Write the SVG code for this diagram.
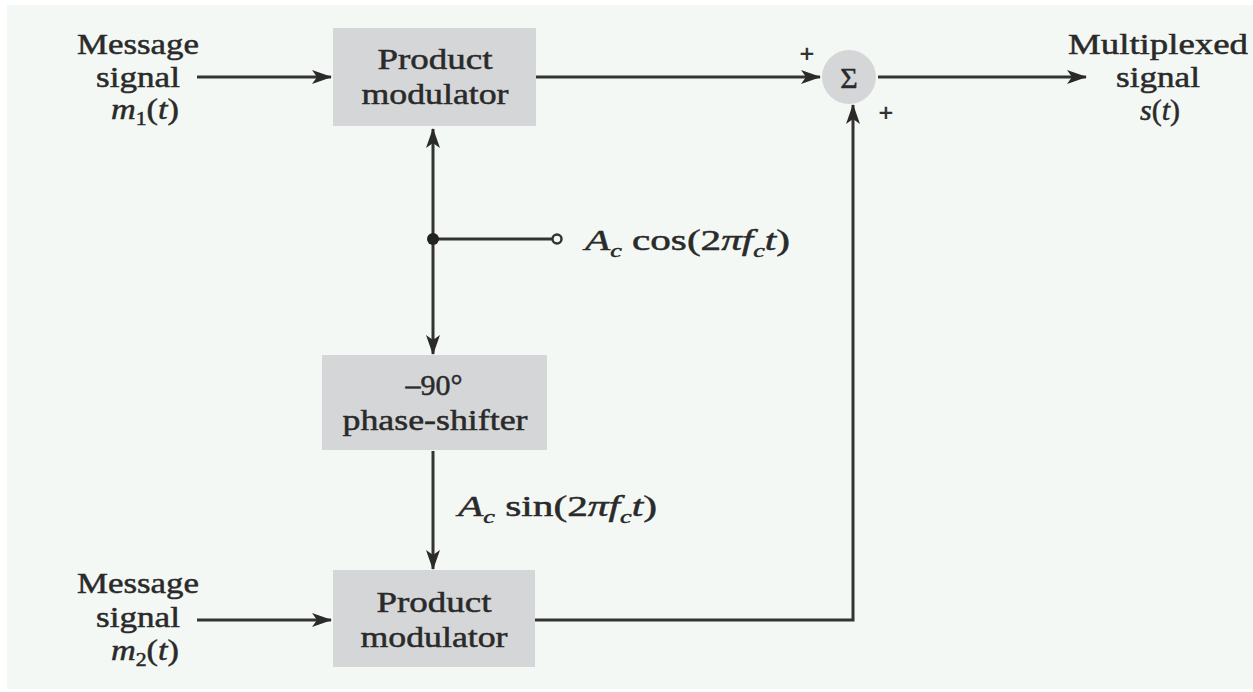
<svg xmlns="http://www.w3.org/2000/svg" width="1253" height="692" viewBox="0 0 1253 692">
<defs>
<style>
.t{font-family:"Liberation Serif","Times New Roman",serif;font-size:30px;fill:#2a2a2a;stroke:#2a2a2a;stroke-width:0.5px;text-anchor:middle}
.m{font-family:"Liberation Serif","Times New Roman",serif;font-size:30px;fill:#2a2a2a;stroke:#2a2a2a;stroke-width:0.5px}
.i{font-style:italic}
.box{fill:#d5d6d7}
.ln{stroke:#333;stroke-width:3;fill:none}
.pl{font-family:"DejaVu Sans",sans-serif;font-size:20px;fill:#333;text-anchor:middle;font-weight:bold}
</style>
<marker id="ar" markerWidth="20" markerHeight="14" refX="19" refY="7" orient="auto" markerUnits="userSpaceOnUse">
<path d="M0,0 L20,7 L0,14 L5,7 Z" fill="#2a2a2a"/>
</marker>
</defs>
<rect x="0" y="0" width="1253" height="692" fill="#ffffff"/>
<rect x="7" y="5" width="1246" height="684" fill="#f4f8f5"/>

<g id="connectors">
<line class="ln" x1="197" y1="77" x2="331" y2="77" marker-end="url(#ar)"/>
<line class="ln" x1="536" y1="77" x2="820" y2="77" marker-end="url(#ar)"/>
<line class="ln" x1="878" y1="77" x2="1086" y2="77" marker-end="url(#ar)"/>
<line class="ln" x1="433" y1="239" x2="433" y2="129" marker-end="url(#ar)"/>
<line class="ln" x1="433" y1="239" x2="433" y2="354" marker-end="url(#ar)"/>
<line class="ln" x1="433" y1="239" x2="553" y2="239"/>
<circle cx="433" cy="239" r="6" fill="#222"/>
<circle cx="557" cy="239" r="4.5" fill="#f4f8f5" stroke="#333" stroke-width="2.5"/>
<line class="ln" x1="433" y1="451" x2="433" y2="569" marker-end="url(#ar)"/>
<line class="ln" x1="197" y1="620" x2="331" y2="620" marker-end="url(#ar)"/>
<polyline class="ln" points="535,620 853,620 853,105" marker-end="url(#ar)"/>
</g>

<g id="input1">
<text class="t" x="138" y="54" textLength="122" lengthAdjust="spacingAndGlyphs">Message</text>
<text class="t" x="138" y="87" textLength="84" lengthAdjust="spacingAndGlyphs">signal</text>
<text class="t" x="145" y="119" textLength="68" lengthAdjust="spacingAndGlyphs"><tspan class="i">m</tspan><tspan font-size="19" dy="6">1</tspan><tspan dy="-6">(</tspan><tspan class="i">t</tspan>)</text>
</g>

<g id="mod1">
<rect class="box" x="333" y="28" width="203" height="98"/>
<text class="t" x="435" y="69" textLength="115" lengthAdjust="spacingAndGlyphs">Product</text>
<text class="t" x="435" y="104" textLength="147" lengthAdjust="spacingAndGlyphs">modulator</text>
</g>

<g id="sum">
<circle cx="849" cy="77" r="27" fill="#d5d6d7"/>
<text class="t" x="849" y="88" font-size="30">Σ</text>
<text class="pl" x="807" y="60">+</text>
<text class="pl" x="886" y="119">+</text>
</g>

<g id="output">
<text class="t" x="1158" y="54" textLength="180" lengthAdjust="spacingAndGlyphs">Multiplexed</text>
<text class="t" x="1158" y="87" textLength="84" lengthAdjust="spacingAndGlyphs">signal</text>
<text class="t" x="1160" y="120"><tspan class="i">s</tspan>(<tspan class="i">t</tspan>)</text>
</g>

<g id="carrier">
<text class="m" x="585" y="250" textLength="205" lengthAdjust="spacingAndGlyphs"><tspan class="i">A</tspan><tspan class="i" font-size="19" dy="7">c</tspan><tspan dy="-7"> cos(2</tspan><tspan class="i">πf</tspan><tspan class="i" font-size="19" dy="7">c</tspan><tspan class="i" dy="-7">t</tspan>)</text>
</g>

<g id="shifter">
<rect class="box" x="322" y="355" width="225" height="95"/>
<text class="t" x="434" y="395">–90°</text>
<text class="t" x="435" y="430" textLength="185" lengthAdjust="spacingAndGlyphs">phase-shifter</text>
</g>

<g id="sinlabel">
<text class="m" x="458" y="516" textLength="199" lengthAdjust="spacingAndGlyphs"><tspan class="i">A</tspan><tspan class="i" font-size="19" dy="7">c</tspan><tspan dy="-7"> sin(2</tspan><tspan class="i">πf</tspan><tspan class="i" font-size="19" dy="7">c</tspan><tspan class="i" dy="-7">t</tspan>)</text>
</g>

<g id="input2">
<text class="t" x="138" y="593" textLength="122" lengthAdjust="spacingAndGlyphs">Message</text>
<text class="t" x="138" y="627" textLength="84" lengthAdjust="spacingAndGlyphs">signal</text>
<text class="t" x="145" y="660" textLength="68" lengthAdjust="spacingAndGlyphs"><tspan class="i">m</tspan><tspan font-size="19" dy="6">2</tspan><tspan dy="-6">(</tspan><tspan class="i">t</tspan>)</text>
</g>

<g id="mod2">
<rect class="box" x="333" y="570" width="202" height="97"/>
<text class="t" x="434" y="612" textLength="115" lengthAdjust="spacingAndGlyphs">Product</text>
<text class="t" x="434" y="647" textLength="147" lengthAdjust="spacingAndGlyphs">modulator</text>
</g>
</svg>
